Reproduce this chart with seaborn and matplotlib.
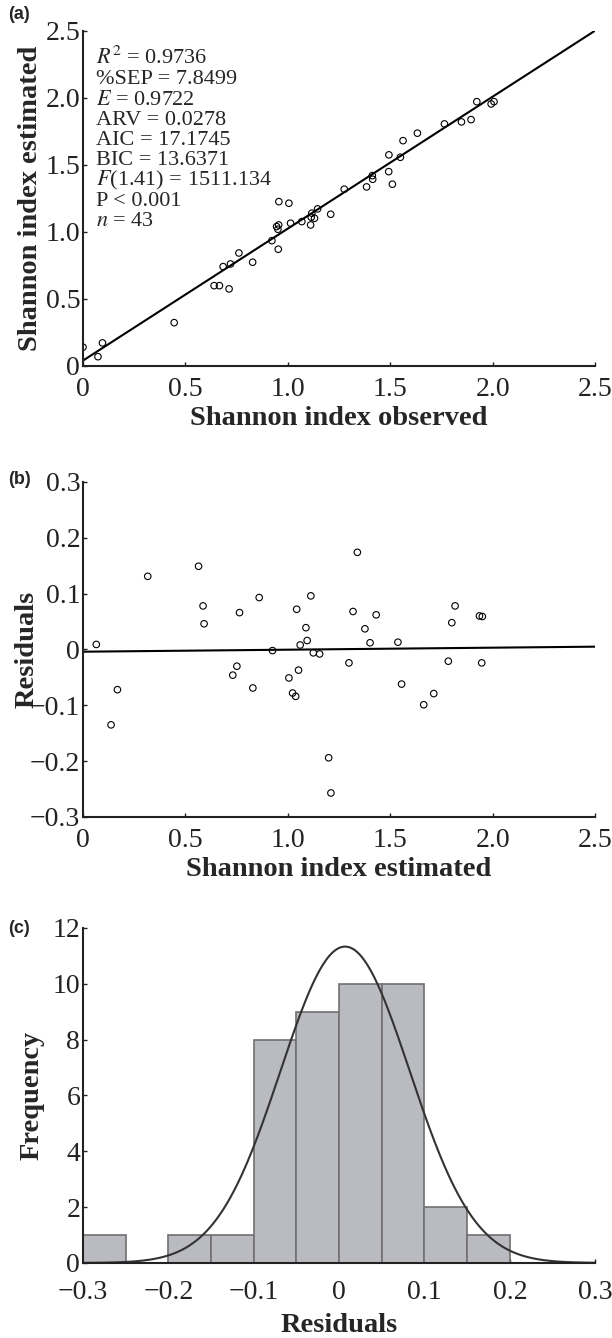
import numpy as np
import pandas as pd
import seaborn as sns
import matplotlib.pyplot as plt

# ---- data ----
# (a) observed vs estimated Shannon index
obs = [0.0, 0.073, 0.095, 0.445, 0.640, 0.666, 0.713, 0.684, 0.720, 0.761,
       0.828, 0.922, 0.953, 0.951, 0.945, 0.955, 0.956, 1.005, 1.013, 1.068,
       1.111, 1.114, 1.130, 1.117, 1.145, 1.209, 1.275, 1.384, 1.414, 1.412,
       1.492, 1.510, 1.493, 1.549, 1.562, 1.632, 1.764, 1.847, 1.894, 1.922,
       1.992, 2.006]
est = [0.140, 0.069, 0.172, 0.323, 0.599, 0.599, 0.575, 0.741, 0.761, 0.843,
       0.774, 0.935, 0.871, 1.020, 1.040, 1.052, 1.226, 1.214, 1.065, 1.077,
       1.052, 1.110, 1.102, 1.140, 1.172, 1.132, 1.319, 1.336, 1.393, 1.420,
       1.450, 1.356, 1.575, 1.557, 1.681, 1.737, 1.806, 1.821, 1.838, 1.972,
       1.955, 1.972]
fit_a = (0.04, 0.985)  # intercept, slope of regression line

stats_lines = [r"$R^2$ = 0.9736", "%SEP = 7.8499", r"$E$ = 0.9722",
               "ARV = 0.0278", "AIC = 17.1745", "BIC = 13.6371",
               r"$F$(1.41) = 1511.134", "P < 0.001", r"$n$ = 43"]

# (b) residuals vs estimated
res_x = [0.065, 0.168, 0.137, 0.316, 0.564, 0.586, 0.591, 0.764, 0.751, 0.731,
         0.829, 0.860, 0.925, 1.005, 1.023, 1.038, 1.052, 1.043, 1.112, 1.088,
         1.094, 1.060, 1.124, 1.155, 1.199, 1.210, 1.339, 1.318, 1.431, 1.376,
         1.401, 1.537, 1.298, 1.555, 1.712, 1.663, 1.816, 1.800, 1.783, 1.935,
         1.949, 1.946]
res_y = [0.009, -0.072, -0.135, 0.131, 0.149, 0.078, 0.046, 0.066, -0.030, -0.046,
         -0.069, 0.093, -0.002, -0.051, -0.078, -0.084, -0.037, 0.072, 0.096, 0.039,
         0.016, 0.008, -0.006, -0.008, -0.194, -0.257, 0.174, 0.068, 0.062, 0.037,
         0.012, 0.013, -0.024, -0.062, -0.079, -0.099, 0.078, 0.048, -0.021, 0.060,
         0.059, -0.024]
fit_b = (-0.004, 0.0036)

# (c) histogram of residuals
bin_edges = [-0.3, -0.25, -0.2, -0.15, -0.1, -0.05, 0.0, 0.05, 0.1, 0.15, 0.2]
bin_counts = [1, 0, 1, 1, 8, 9, 10, 10, 2, 1]
norm_mean, norm_sd = 0.007, 0.0757

ticks_a = [0, 0.5, 1.0, 1.5, 2.0, 2.5]
ticklab_a = ["0", "0.5", "1.0", "1.5", "2.0", "2.5"]
ticks_b = [-0.3, -0.2, -0.1, 0, 0.1, 0.2, 0.3]
ticklab_b = ["\u22120.3", "\u22120.2", "\u22120.1", "0", "0.1", "0.2", "0.3"]
ticks_cy = [0, 2, 4, 6, 8, 10, 12]

# ---- style ----
sns.set_style("ticks")
plt.rcParams['font.family'] = ['Liberation Serif', 'DejaVu Serif']
plt.rcParams['mathtext.fontset'] = 'stix'

fig = plt.figure(figsize=(6.12, 13.38), dpi=100)
ax_a = fig.add_axes([0.1356, 0.7265, 0.837, 0.2504])
ax_b = fig.add_axes([0.1356, 0.3894, 0.837, 0.2504])
ax_c = fig.add_axes([0.1356, 0.0561, 0.837, 0.2504])

tick_fs = 20
lab_fs = 20.5


def style_axes(ax, ylab_x, xpad, xlabpad):
    sns.despine(ax=ax)
    for s in ['left', 'bottom']:
        ax.spines[s].set_linewidth(1.5)
        ax.spines[s].set_color('#222222')
    ax.tick_params(direction='in', length=3, width=1, labelsize=tick_fs,
                   colors='#222222')
    ax.tick_params(axis='x', pad=xpad)
    ax.tick_params(axis='y', pad=2)
    ax.yaxis.set_label_coords(ylab_x, 0.5)
    ax.xaxis.labelpad = xlabpad


# (a)
df_a = pd.DataFrame({'obs': obs, 'est': est})
sns.scatterplot(data=df_a, x='obs', y='est', ax=ax_a, marker='o', s=22,
                facecolor='none', edgecolor='black', linewidth=0.8)
xl = np.array([0, 2.5])
sns.lineplot(x=xl, y=fit_a[0] + fit_a[1] * xl, ax=ax_a, color='black', lw=1.5)
ax_a.set_xlim(0, 2.5)
ax_a.set_ylim(0, 2.5)
ax_a.set_xticks(ticks_a, ticklab_a)
ax_a.set_yticks(ticks_a, ticklab_a)
ax_a.set_xlabel('Shannon index observed', fontsize=lab_fs, fontweight='bold')
ax_a.set_ylabel('Shannon index estimated', fontsize=lab_fs, fontweight='bold')
style_axes(ax_a, -0.078, 8, 3)
for i, line in enumerate(stats_lines):
    ax_a.text(0.026, 1 - (33 + 20.3 * i) / 335, line, fontsize=16,
              va='baseline', ha='left', transform=ax_a.transAxes)

# (b)
df_b = pd.DataFrame({'x': res_x, 'r': res_y})
sns.scatterplot(data=df_b, x='x', y='r', ax=ax_b, marker='o', s=22,
                facecolor='none', edgecolor='black', linewidth=0.8)
sns.lineplot(x=xl, y=fit_b[0] + fit_b[1] * xl, ax=ax_b, color='black', lw=1.5)
ax_b.set_xlim(0, 2.5)
ax_b.set_ylim(-0.3, 0.3)
ax_b.set_xticks(ticks_a, ticklab_a)
ax_b.set_yticks(ticks_b, ticklab_b)
ax_b.set_xlabel('Shannon index estimated', fontsize=lab_fs, fontweight='bold')
ax_b.set_ylabel('Residuals', fontsize=lab_fs, fontweight='bold')
style_axes(ax_b, -0.085, 8, 3)

# (c)
centers = [(bin_edges[i] + bin_edges[i + 1]) / 2 for i in range(len(bin_counts))]
sns.histplot(x=centers, weights=bin_counts, bins=bin_edges, ax=ax_c,
             color='#b9bbc0', edgecolor='#707070', linewidth=1.2, alpha=1)
xs = np.linspace(-0.3, 0.3, 300)
curve = sum(bin_counts) * 0.05 * np.exp(-0.5 * ((xs - norm_mean) / norm_sd) ** 2) / (norm_sd * np.sqrt(2 * np.pi))
sns.lineplot(x=xs, y=curve, ax=ax_c, color='#333333', lw=1.5)
ax_c.set_xlim(-0.3, 0.3)
ax_c.set_ylim(0, 12)
ax_c.set_xticks(ticks_b, ticklab_b)
ax_c.set_yticks(ticks_cy)
ax_c.set_xlabel('Residuals', fontsize=lab_fs, fontweight='bold')
ax_c.set_ylabel('Frequency', fontsize=lab_fs, fontweight='bold')
style_axes(ax_c, -0.075, 12, 6)

# panel letters
for lab, yy in [('(a)', 0.9895), ('(b)', 0.6413), ('(c)', 0.3057)]:
    fig.text(0.013, yy, lab, fontsize=13, fontweight='bold',
             family=['Liberation Sans', 'DejaVu Sans'], va='center')

fig.savefig('out.png', dpi=100)
